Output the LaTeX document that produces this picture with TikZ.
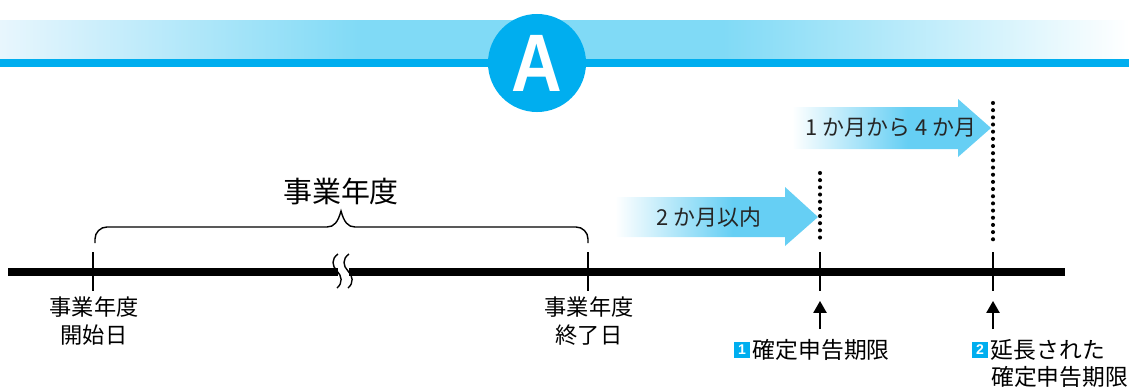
\documentclass[tikz,border=0pt]{standalone}
\usepackage{fontspec}
\setmainfont{Noto Sans CJK JP}
\newfontfamily\capfont{Liberation Sans}
\usetikzlibrary{positioning,arrows.meta}

\definecolor{headblue}{HTML}{00AEEF}
\definecolor{bandcyan}{HTML}{80DAF6}
\definecolor{bandpale}{HTML}{E8F6FD}
\definecolor{arrowcyan}{HTML}{66CFF4}

% colours sit between 25bp and 75bp, the part that covers the path
\pgfdeclarehorizontalshading{bandfade}{100bp}{color(0bp)=(bandpale); color(25bp)=(bandpale); color(41bp)=(bandcyan); color(57bp)=(bandcyan); color(75bp)=(white); color(100bp)=(white)}
\pgfdeclarehorizontalshading{arrowfade}{100bp}{color(0bp)=(white); color(25bp)=(white); color(54bp)=(arrowcyan); color(100bp)=(arrowcyan)}

\tikzset{
  tickline/.style={line width=1pt},
  dotline/.style={line width=2.9pt, line cap=round, dash pattern=on 0pt off 5.1pt},
  datelabel/.style={font=\fontsize{15.8}{19.5}\selectfont, align=center, inner sep=0pt},
  deadline/.style={font=\fontsize{16.2}{19}\selectfont, inner sep=0pt},
  spantext/.style={font=\fontsize{15.6}{19}\selectfont, inner sep=0pt, text=black!85},
  numbox/.style={fill=headblue, text=white, font=\capfont\bfseries\fontsize{10}{10}\selectfont, minimum size=11.8pt, inner sep=0pt},
  uparrow/.style={line width=1pt, -{Triangle[width=9.5pt,length=8.5pt]}}
}

\begin{document}
\begin{tikzpicture}[x=0.025cm,y=-0.025cm]
	\useasboundingbox (0,0) rectangle (1129,390);
	% header band
	\shade[shading=bandfade] (0,20) rectangle (1129,59);
	\fill[headblue] (0,59) rectangle (1129,67);
	\node[circle, fill=headblue, minimum size=2.45cm, inner sep=0pt, text=white] (badge) at (537,63)
		{\capfont\bfseries\fontsize{58}{58}\selectfont\scalebox{0.86}[1]{A}};

	% time line
	\draw[line width=5pt] (8,272) -- (1065,272);
	\fill[white] (338,267) rectangle (349,277);
	\foreach \dx in {0,11}
		\draw[line width=1pt] (338+\dx,254) .. controls (331+\dx,259) and (332+\dx,266) .. (337+\dx,271)
			.. controls (342+\dx,276) and (343+\dx,283) .. (337+\dx,288);

	% ticks
	\foreach \tx/\tn in {93/start,588/close,820/due,993/ext}{
		\coordinate (\tn top) at (\tx,252);
		\coordinate (\tn bot) at (\tx,291);
		\draw[tickline] (\tn top) -- (\tn bot);
	}

	% business year brace
	\draw[line width=1pt] (95,243) -- (95,239) arc (180:270:12) -- (327,227)
		.. controls (334,227) and (338,222) .. (341,211)
		.. controls (344,222) and (348,227) .. (355,227)
		-- (576,227) arc (270:360:12) -- (588,243);
	\node[font=\fontsize{20.6}{24}\selectfont, inner sep=0pt] (year) at (341,191) {事業年度};

	% period arrows
	\shade[shading=arrowfade] (615,197) -- (785,197) -- (785,187) -- (818,217)
		-- (785,246) -- (785,237) -- (615,237) -- cycle;
	\node[spantext] (two) at (709,217) {2 か月以内};
	\shade[shading=arrowfade] (792,107) -- (958,107) -- (958,99) -- (991,128)
		-- (958,157) -- (958,149) -- (792,149) -- cycle;
	\node[spantext] (four) at (891,128) {1 か月から 4 か月};

	% dotted limits
	\coordinate (due dots) at (820,173);
	\coordinate (ext dots) at (993,103);
	\draw[dotline] (due dots) -- (820,244);
	\draw[dotline] (ext dots) -- (993,244);

	% labels under the line
	\node[datelabel] (startlbl) at (94,321) {事業年度\\開始日};
	\node[datelabel] (closelbl) at (589,321) {事業年度\\終了日};

	\node[numbox] (no1) at (742,350) {1};
	\node[deadline, right=1.5pt of no1] (duelbl) {確定申告期限};
	\node[numbox] (no2) at (980,350) {2};
	\node[deadline, right=1.5pt of no2] (extlbl) {延長された};
	\node[deadline, anchor=west] (extlbl2) at (991,377) {確定申告期限};

	\coordinate (due tail) at (820,329);
	\coordinate (due tip) at (820,301);
	\coordinate (ext tail) at (993,329);
	\coordinate (ext tip) at (993,301);
	\draw[uparrow] (due tail) -- (due tip);
	\draw[uparrow] (ext tail) -- (ext tip);
\end{tikzpicture}
\end{document}
